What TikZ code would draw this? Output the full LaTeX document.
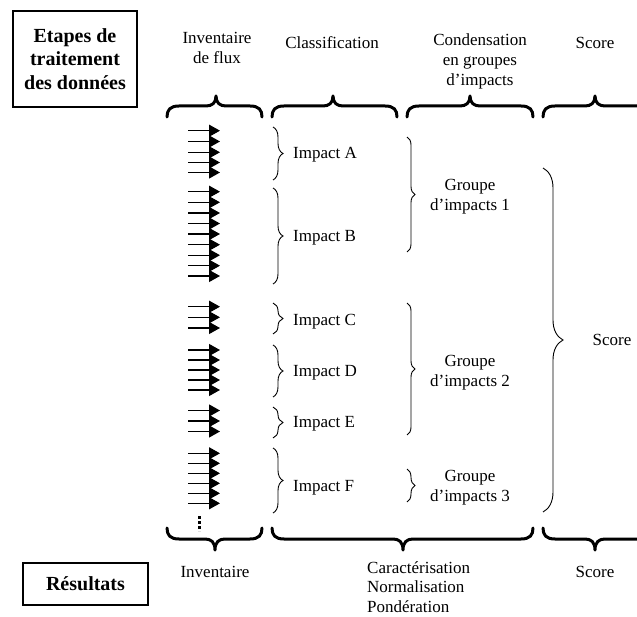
\documentclass[tikz,border=0pt]{standalone}
\usepackage{fontspec}
\setmainfont{Liberation Serif}
\usetikzlibrary{arrows.meta,decorations.pathreplacing}
\newcommand\upbrace[3]{% x1, tip x, x2
  \draw[bigbrace] (#1,117) .. controls (#1,110) and ({#1+3},106) .. ({#1+12},106)
    -- ({#2-10},106) .. controls ({#2-4},106) and (#2,103) .. (#2,96)
    .. controls (#2,103) and ({#2+4},106) .. ({#2+10},106)
    -- ({#3-12},106) .. controls ({#3-3},106) and (#3,110) .. (#3,117);}
\newcommand\downbrace[3]{% x1, tip x, x2
  \draw[bigbrace] (#1,528) .. controls (#1,535) and ({#1+3},539) .. ({#1+12},539)
    -- ({#2-10},539) .. controls ({#2-4},539) and (#2,542) .. (#2,550)
    .. controls (#2,542) and ({#2+4},539) .. ({#2+10},539)
    -- ({#3-12},539) .. controls ({#3-3},539) and (#3,535) .. (#3,528);}
\begin{document}
\begin{tikzpicture}[x=1pt,y=-1pt,
  txt/.style={font=\fontsize{17}{20}\selectfont, inner sep=0pt, align=center},
  boldbox/.style={draw, line width=1.1pt, font=\fontsize{20}{23.5}\selectfont\bfseries, align=center, inner sep=0pt},
  flow/.style={line width=1.2pt, -{Triangle[length=11pt,width=12pt]}},
  thinbrace/.style={decorate, decoration={brace, amplitude=#1}, line width=0.9pt},
  bigbrace/.style={line width=3pt, line cap=round, line join=round}]
\useasboundingbox (0,0) rectangle (637,617);

% left boxes
\node[boldbox, minimum width=124pt, minimum height=96pt] (etapes) at (75,59) {Etapes de\\traitement\\des données};
\node[boldbox, minimum width=125pt, minimum height=42pt] (resultats) at (85.5,584) {Résultats};

% headers
\node[txt] (hinv) at (217,48) {Inventaire\\de flux};
\node[txt] (hclass) at (332,43) {Classification};
\node[txt] (hcond) at (480,61) {Condensation\\en groupes\\d’impacts};
\node[txt] (hscore) at (595,43) {Score};

% top braces
\upbrace{167}{216}{262}
\upbrace{272}{333}{397}
\upbrace{407}{470}{533}
\upbrace{543}{595}{650}

% bottom braces
\downbrace{167}{215}{262}
\downbrace{272}{403}{533}
\downbrace{543}{595}{650}

% bottom texts
\node[txt] (binv) at (215,572) {Inventaire};
\node[txt, anchor=west, align=left, font=\fontsize{17}{19.5}\selectfont] (bcar) at (367,587) {Caractérisation\\Normalisation\\Pondération};
\node[txt] (bscore) at (595,572) {Score};

% flows
\foreach \y [count=\i] in {130.7,141.5,152.3,162.5,172.5,
                191.7,202.3,213,223.5,234,244.7,255.2,265.7,276,
                306.7,317.3,328,
                350,360,370,380,390,
                410.5,421,431.5,
                453.3,463.3,473.3,483.3,493.3,503.3}{
  \coordinate (fs\i) at (188,\y);
  \coordinate (fe\i) at (220,\y);
  \draw[flow] (fs\i) -- (fe\i);
}
\coordinate (dotA) at (199,516);
\coordinate (dotB) at (199,531);
\draw[line width=3pt, dash pattern=on 3pt off 2pt] (dotA) -- (dotB);

% impacts
\node[txt, anchor=west] (iA) at (293,155) {Impact A};
\node[txt, anchor=west] (iB) at (293,238) {Impact B};
\node[txt, anchor=west] (iC) at (293,322) {Impact C};
\node[txt, anchor=west] (iD) at (293,373) {Impact D};
\node[txt, anchor=west] (iE) at (293,424) {Impact E};
\node[txt, anchor=west] (iF) at (293,488) {Impact F};
\draw[thinbrace=10pt] (273,127) -- (273,180);
\draw[thinbrace=10pt] (273,188) -- (273,284);
\draw[thinbrace=10pt] (273,303) -- (273,334);
\draw[thinbrace=10pt] (273,345) -- (273,397);
\draw[thinbrace=10pt] (273,407) -- (273,438);
\draw[thinbrace=10pt] (273,448) -- (273,513);

% groups
\node[txt] (g1) at (470,197) {Groupe\\d’impacts 1};
\node[txt] (g2) at (470,373) {Groupe\\d’impacts 2};
\node[txt] (g3) at (470,488) {Groupe\\d’impacts 3};
\draw[thinbrace=8pt] (407,137) -- (407,252);
\draw[thinbrace=8pt] (407,303) -- (407,435);
\draw[thinbrace=8pt] (407,469) -- (407,502);

% score
\node[txt] (score) at (612,340) {Score};
\draw[thinbrace=20pt] (543,168) -- (543,512);
\end{tikzpicture}
\end{document}
